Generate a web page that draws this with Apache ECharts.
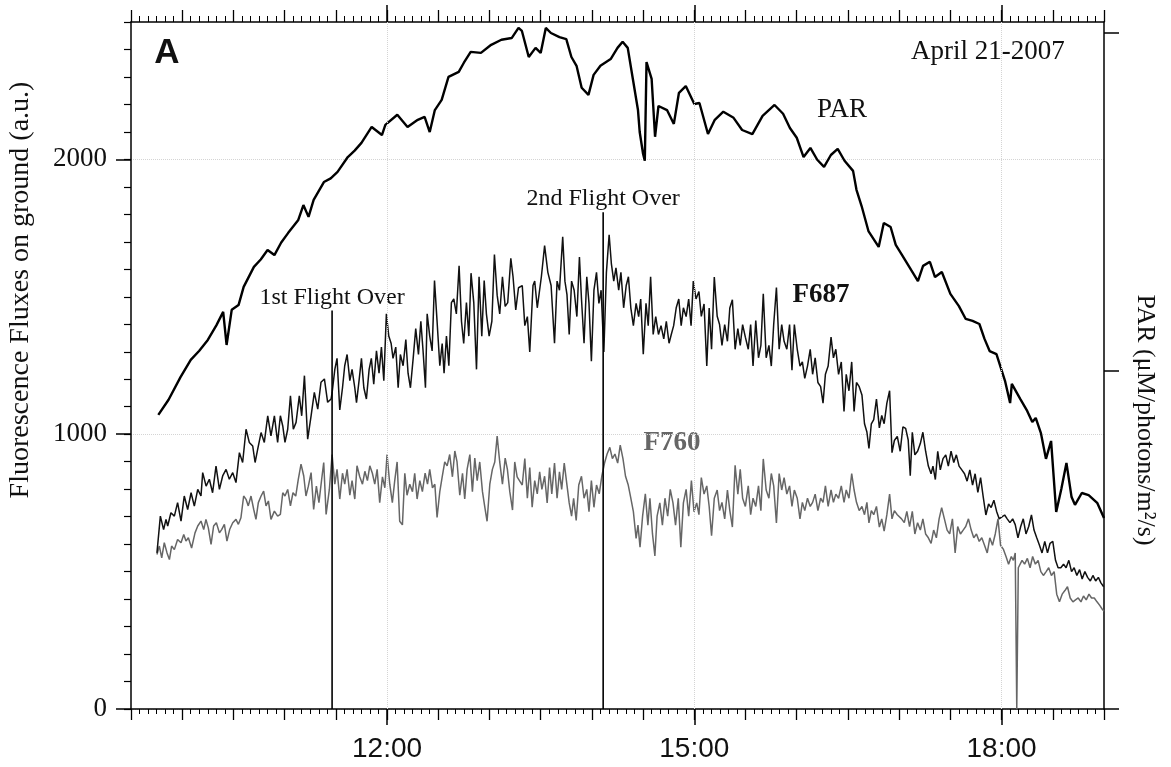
<!DOCTYPE html>
<html>
<head>
<meta charset="utf-8">
<script src="https://cdn.jsdelivr.net/npm/echarts@6/dist/echarts.min.js"></script>
<style>html,body{margin:0;padding:0;background:#fff}#c{width:1171px;height:767px}</style>
</head>
<body>
<div id="c"></div>
<script>
// ---------- DATA (time in minutes since midnight, values in axis units) ----------
const xTickValues = [12, 15, 18];
const xTickLabels = ['12:00', '15:00', '18:00'];
const yTickValues = [0, 1000, 2000];
const yTickLabels = ['0', '1000', '2000'];
const parTickValues = [0, 1000, 2000];

const flightTimes = [687.8, 846.6];
const flightTops = [1450, 1808];
const flightNames = ['1st Flight Over', '2nd Flight Over'];

// PAR (right axis)
const par = [[586,870],[592,915],[599,982],[605,1033],[610,1060],[615,1092],[620,1135],[624,1175],[626,1077],[629,1181],[633,1195],[636,1249],[642,1308],[646,1330],[650,1358],[654,1343],[658,1380],[662,1408],[668,1447],[671,1491],[674,1456],[677,1506],[683,1559],[687,1570],[691,1589],[697,1633],[701,1652],[705,1675],[711,1722],[717,1698],[719,1728],[726,1758],[732,1722],[738,1743],[742,1752],[745,1707],[748,1772],[752,1802],[756,1870],[762,1885],[765,1912],[769,1944],[775,1941],[781,1965],[787,1980],[793,1985],[797,2015],[799,2006],[803,1929],[807,1956],[810,1941],[813,2015],[816,2000],[821,1988],[825,1982],[828,1929],[831,1903],[834,1838],[838,1817],[841,1876],[845,1903],[851,1923],[855,1956],[858,1974],[861,1956],[864,1864],[867,1772],[868,1707],[870,1642],[871,1622],[872,1914],[875,1864],[877,1693],[879,1784],[884,1772],[888,1731],[891,1823],[895,1843],[900,1790],[903,1793],[908,1701],[912,1743],[917,1767],[923,1749],[928,1713],[934,1701],[940,1755],[947,1787],[952,1761],[956,1719],[960,1690],[964,1633],[968,1660],[972,1625],[976,1604],[980,1639],[984,1657],[988,1622],[993,1592],[995,1536],[998,1488],[1002,1414],[1008,1367],[1011,1438],[1015,1426],[1018,1373],[1021,1349],[1027,1299],[1031,1266],[1034,1311],[1038,1323],[1041,1278],[1045,1293],[1050,1228],[1055,1192],[1059,1154],[1063,1148],[1067,1139],[1070,1095],[1073,1059],[1077,1050],[1082,971],[1085,905],[1086,962],[1091,917],[1095,882],[1098,849],[1100,861],[1103,817],[1106,740],[1109,793],[1112,583],[1115,651],[1118,728],[1121,627],[1123,604],[1127,639],[1131,633],[1136,610],[1140,565]];

// F687 (left axis)
const f687 = [[585.2,568],[587.2,702],[589.1,653],[590.5,690],[591.5,666],[593.4,714],[595.4,702],[597.3,751],[599.3,684],[601.2,775],[603.2,726],[605.2,787],[607.1,738],[609.1,799],[611,775],[612,860],[614,811],[615.9,836],[617.8,787],[619.8,884],[621.8,799],[623.7,848],[625.7,872],[627.6,836],[629.6,860],[631.5,824],[633.5,933],[635.4,897],[637.4,1018],[639.3,970],[641.3,957],[642.7,897],[644.2,945],[646.2,1006],[648.1,970],[650.1,1067],[652,994],[654,1067],[655.9,970],[657.5,1067],[658.9,1030],[660.2,970],[661.8,1018],[663.4,1140],[665.1,1018],[666.7,1043],[668.6,1140],[670,1067],[671.6,1213],[673.5,982],[675.5,1067],[677.4,1152],[679.4,1091],[681.3,1189],[683.3,1201],[685.2,1116],[687.2,1128],
[687.8,1150],[689.4,1236],[690.7,1276],[692.3,1088],[693.9,1169],[695.2,1249],[696.6,1290],[698.2,1195],[699.5,1236],[701.1,1169],[702.1,1115],[703.6,1195],[705,1276],[706.4,1169],[707.9,1128],[709.5,1236],[710.8,1276],[712.2,1182],[713.8,1303],[715.3,1222],[716.7,1317],[718.1,1195],[719.6,1438],[721,1357],[722.4,1330],[723.5,1276],[725.1,1317],[726.5,1169],[727.8,1290],[729.4,1249],[731,1344],[732.3,1222],[733.7,1169],[735.3,1276],[736.8,1384],[738.4,1290],[739.8,1411],[741.1,1303],[742.5,1169],[743.5,1438],[745,1357],[746.4,1303],[747.8,1559],[749.3,1411],[750.9,1249],[752.3,1330],[753.4,1222],[754.8,1357],[756.2,1249],[757.7,1479],[759.1,1492],[760.6,1438],[762.2,1613],[763.6,1411],[764.9,1330],[766.5,1479],[767.9,1357],[769.2,1586],[770.8,1479],[772.4,1236],[773.9,1573],[775.5,1357],[776.9,1559],[778.2,1438],[779.8,1357],[781.4,1411],[782.9,1654],[784.5,1506],[786,1438],[787.6,1573],[789.2,1465],[790.7,1479],[792.5,1640],[793.8,1573],[795.4,1452],[797,1533],
[799.2,1541],[800.7,1395],[802.2,1428],[803.6,1299],[805.5,1541],[806.5,1557],[808,1460],[810.4,1573],[812.3,1686],[814.2,1589],[816.1,1541],[818.1,1331],[819.6,1557],[821,1524],[822.9,1718],[824.2,1557],[825.4,1508],[826.7,1363],[828.1,1557],[829.6,1524],[831.2,1428],[832.7,1645],[833.9,1492],[835.4,1331],[837,1573],[838.3,1476],[839.7,1266],[841.2,1524],[842.7,1589],[844.1,1476],[845.4,1524],[847,1299],[848.5,1589],[850.1,1726],[851.4,1621],[852.8,1557],[854.1,1605],[855.7,1524],[857,1589],[858.6,1460],[860.1,1541],[861.4,1573],[862.8,1460],[864.3,1395],[865.9,1476],[867.4,1428],[868.6,1492],[870.1,1291],[871.7,1476],[873,1395],[874.4,1573],[875.9,1363],[877.4,1428],[879,1363],[880.5,1395],[882.1,1347],[883.6,1411],[885.2,1331],[886.5,1363],[887.9,1395],[889.4,1460],[890.9,1492],[892.3,1395],[893.6,1460],[895.2,1428],[896.7,1492],[898.1,1395],[899.4,1557],[901,1492],
[902.7,1519],[904.1,1429],[905.7,1474],[907.3,1248],[908.7,1459],[910.1,1309],[911.7,1572],[913.4,1429],[914.8,1399],[916.2,1323],[917.8,1399],[919.4,1338],[920.8,1459],[922.3,1489],[923.9,1309],[925.5,1384],[926.9,1323],[928.3,1399],[929.9,1353],[931.6,1309],[933,1399],[934.4,1248],[936,1414],[937.6,1278],[939,1323],[940.4,1511],[942.1,1278],[943.7,1323],[945.1,1248],[946.5,1399],[948.1,1534],[949.7,1309],[951.2,1399],[952.6,1338],[954.2,1309],[955.8,1399],[957.2,1233],[958.6,1399],[960.3,1309],[961.9,1248],[963.3,1263],[964.7,1203],[966.3,1248],[967.9,1309],[969.3,1218],[970.8,1278],[972.4,1188],[974,1173],[975.4,1113],[976.8,1218],[978.4,1248],[980.1,1353],[981.5,1278],[982.9,1309],[984.5,1218],[986.1,1263],[987.7,1083],[989,1218],[990.6,1158],[992.2,1263],[993.6,1083],[995,1188],[996.6,1173],[998.2,1143],[999.7,1038],[1001.1,1008],[1002.3,948],[1003.7,1038],[1005.1,1053],[1006.7,1128],[1008.4,1023],[1009.8,1068],[1011.2,1038],[1012.8,1113],[1014.4,1158],[1015.8,933],[1017.2,977],[1018.9,992],
[1020.6,938],[1022.2,1027],[1023.8,1021],[1025.3,979],[1026.5,849],[1027.7,1007],[1029.2,925],[1030.8,938],[1032.4,966],[1033.9,1007],[1035.5,938],[1037.1,884],[1038.7,856],[1039.8,884],[1041.2,835],[1042.6,938],[1044.1,870],[1045.7,911],[1047.3,925],[1048.8,884],[1050.4,938],[1052,897],[1053.5,925],[1055.1,884],[1056.7,870],[1058.3,856],[1059.8,829],[1061.4,870],[1063,815],[1064.5,856],[1066.1,788],[1067.7,842],[1069.2,774],[1070.8,706],[1072.4,746],[1073.9,733],[1075.5,760],[1077.1,719],[1078.6,692],[1080.2,699],[1081.8,706],[1083.3,692],[1084.9,678],[1086.5,692],[1088,671],[1089.6,623],[1091.2,664],[1092.7,692],[1094.3,637],[1095.9,664],[1097.5,706],[1099,651],[1100.6,623],[1102.2,596],[1103.7,568],[1105.3,610],[1106.9,568],[1108.4,603],[1110,610],[1111.6,541],[1113.1,514],[1114.7,514],[1116.3,527],[1117.8,514],[1119.4,541],[1121,500],[1122.5,514],[1124.1,486],[1125.7,507],[1127.2,473],[1128.8,500],[1130.4,479],[1132,466],[1133.5,486],[1135.1,466],[1136.7,479],[1138.2,459],[1139.8,445]];

// F760 (left axis)
const f760 = [[585.2,562],[586.6,593],[588,550],[589.5,605],[591.1,568],[592.5,544],[593.8,593],[595.4,580],[597.3,617],[599.3,605],[600.9,635],[602.2,611],[603.6,623],[605.5,586],[607.5,641],[609.1,666],[611,684],[612.6,653],[613.9,690],[615.3,659],[616.9,599],[618.4,666],[620,678],[621.8,641],[623.1,653],[624.7,672],[626.2,611],[627.8,653],[629.6,678],[631.5,690],[632.9,672],[634.4,696],[636,775],[637.4,763],[638.7,739],[640.3,775],[641.9,726],[643.2,690],[644.6,751],[646.2,775],[647.7,793],[649.1,739],[650.5,757],[652,690],[654,720],[655.9,702],[657.5,708],[658.9,787],[660.2,775],[661.8,799],[663.4,739],[664.9,787],[666.5,775],[668,836],[669.6,891],[671.2,848],[672.5,775],[673.9,811],[675.5,860],[677,726],[678.6,811],[680.1,751],[681.7,836],[682.9,897],[684.3,708],[686.2,799],
[687.8,926],[689.4,818],[690.7,872],[692.3,764],[693.9,858],[695.2,818],[696.6,872],[698.2,778],[699.5,831],[701.1,764],[702.4,885],[704,845],[705.6,818],[707,865],[708.5,831],[709.9,885],[711.4,858],[712.8,818],[714.2,872],[715.7,751],[717.3,845],[718.7,805],[720,926],[721.6,818],[723.1,751],[724.5,831],[725.9,899],[727.4,683],[729,670],[730.4,858],[731.7,778],[733.3,818],[734.9,791],[736.2,858],[737.6,764],[739.2,831],[740.7,791],[742.3,858],[743.7,818],[745,872],[746.6,805],[748,818],[749.3,697],[750.9,791],[752.3,845],[753.8,899],[755.2,885],[756.7,926],[758.3,845],[759.7,939],[761,899],[762.6,778],[764.2,858],[765.5,764],[766.9,872],[768.5,926],[770,791],[771.4,913],[772.8,831],[774.3,899],[775.9,791],[777.2,737],[778.6,683],[780.2,818],[781.7,872],[783.1,899],[784.5,993],[786,899],[787.6,818],[789.2,913],[790.5,872],[791.9,791],[793.5,724],[794.8,899],[796.2,845],
[799.2,815],[800.7,911],[802.2,767],[803.6,879],[805,734],[806.5,831],[808,783],[809.4,863],[810.7,799],[812.3,847],[813.8,750],[815.2,879],[816.5,783],[818.1,895],[819.6,767],[821,863],[822.3,799],[823.8,895],[825.4,815],[826.7,750],[828.1,702],[829.3,767],[830.8,686],[832.3,815],[833.9,847],[835.4,767],[837,799],[838.3,718],[839.7,831],[841.2,734],[842.7,815],[844.3,783],[845.8,847],[847.4,895],[848.9,928],[850.5,952],[852,911],[853.5,928],[855.1,895],[856.6,960],[858.2,911],[859.7,847],[861.3,815],[862.8,767],[864.3,718],[865.9,621],[867,669],[868.2,589],[869.7,702],[871.3,783],[872.8,669],[874,767],[875.5,637],[876.9,557],[878.2,702],[879.8,750],[881.3,669],[882.8,767],[884.4,702],[885.9,799],[887.5,750],[889,669],[890.6,767],[892.1,589],[893.6,750],[895.2,799],[896.7,702],[898.3,831],[899.8,718],[901.4,750],
[902.7,707],[904.1,842],[905.7,782],[907.3,812],[908.7,737],[910.1,631],[911.7,767],[913.4,797],[914.8,722],[916.2,752],[917.8,692],[919.4,797],[920.8,722],[922.3,662],[923.9,887],[925.5,782],[926.9,872],[928.3,767],[929.9,737],[931.6,812],[933,707],[934.4,767],[936,737],[937.6,812],[939,722],[940.4,910],[942.1,797],[943.7,767],[945.1,857],[946.5,812],[948.1,677],[949.7,857],[951.2,797],[952.6,842],[954.2,782],[955.8,812],[957.2,737],[958.6,797],[960.3,767],[961.9,692],[963.3,752],[964.7,722],[966.3,767],[967.9,737],[969.3,752],[970.8,782],[972.4,722],[974,767],[975.4,752],[976.8,812],[978.4,737],[980.1,797],[981.5,752],[982.9,782],[984.5,767],[986.1,812],[987.7,752],[989,797],[990.6,767],[992.2,857],[993.6,797],[995,752],[996.6,722],[998.2,737],[999.7,707],[1001.1,752],[1002.3,677],[1003.7,722],[1005.1,707],[1006.7,737],[1008.4,662],[1009.8,692],[1011.2,647],[1012.8,707],[1014.4,782],[1015.8,692],[1017.2,722],[1018.9,707],
[1021.4,692],[1023,678],[1024.5,719],[1026.1,664],[1027.7,719],[1029.2,637],[1030.8,678],[1032.4,651],[1033.9,692],[1035.5,637],[1037.1,623],[1038.7,603],[1040.2,651],[1041.8,623],[1043.4,692],[1044.9,733],[1046.5,692],[1048.1,651],[1049.6,637],[1051.2,692],[1052.8,568],[1054.3,664],[1055.9,637],[1057.5,651],[1059,664],[1060.6,692],[1062.2,651],[1063.7,623],[1065.3,637],[1066.9,610],[1068.4,623],[1070,596],[1071.6,568],[1073.1,623],[1074.7,596],[1076.3,637],[1077.9,692],[1079.4,596],[1081,582],[1082.6,555],[1084.1,527],[1085.7,555],[1086.9,541],[1088,568],[1088.9,0],[1089.8,514],[1092,541],[1093.5,527],[1095.1,548],[1096.7,514],[1098.2,555],[1099.8,527],[1101.4,541],[1103,500],[1104.5,486],[1106.1,500],[1107.6,514],[1109.2,486],[1110.8,500],[1112.3,418],[1113.9,390],[1115.5,418],[1117.1,431],[1118.6,445],[1120.2,404],[1121.8,390],[1123.3,397],[1124.9,404],[1126.5,390],[1128,411],[1129.6,397],[1131.2,418],[1132.7,404],[1134.3,404],[1135.9,390],[1137.5,377],[1139,363],[1140,356]];

// ---------- CHART ----------
const SERIF = "'Liberation Serif','Times New Roman',serif";
const NARROW = "'Liberation Sans Narrow','Arial Narrow','Liberation Sans',sans-serif";
const toHours = arr => arr.map(([m, v]) => [m / 60, v]);
const X_MIN = 9.5, X_MAX = 19, PAR_MAX = 2032.5;

const chart = echarts.init(document.getElementById('c'), null, {renderer: 'canvas'});

const xBase = {type: 'value', min: X_MIN, max: X_MAX, splitLine: {show: false}};
const flightSeries = flightTimes.map((t, i) => ({
  type: 'line', xAxisIndex: 0, yAxisIndex: 0, z: 4,
  showSymbol: true, symbol: 'circle', symbolSize: 0,
  lineStyle: {color: '#000', width: 1.6},
  itemStyle: {color: '#000'},
  data: [
    [t / 60, 0],
    {value: [t / 60, flightTops[i]],
     label: {show: true, position: 'top', distance: 1, formatter: flightNames[i],
             fontFamily: SERIF, fontSize: 24, color: '#111'}}
  ],
  silent: true, animation: false
}));

const option = {
  animation: false,
  backgroundColor: '#fff',
  grid: {left: 131, right: 67, top: 22, bottom: 58, containLabel: false},
  xAxis: [
    Object.assign({}, xBase, {position: 'bottom', interval: 0.5,
      axisLine: {show: true, onZero: false, lineStyle: {color: '#000', width: 1.5}},
      axisTick: {show: true, inside: false, length: 11, lineStyle: {color: '#000', width: 1.3}},
      minorTick: {show: true, splitNumber: 6, length: 5, lineStyle: {color: '#000', width: 1}},
      axisLabel: {show: false}}),
    Object.assign({}, xBase, {position: 'bottom', interval: 0.5,
      axisLine: {show: false, onZero: false},
      axisTick: {show: true, customValues: xTickValues, length: 16, lineStyle: {color: '#000', width: 1.5}},
      axisLabel: {show: true, customValues: xTickValues, margin: 26,
        formatter: v => { const k = xTickValues.indexOf(v); return k >= 0 ? xTickLabels[k] : ''; },
        fontFamily: NARROW, fontSize: 28, color: '#111'}}),
    Object.assign({}, xBase, {position: 'top', interval: 0.5,
      axisLine: {show: true, onZero: false, lineStyle: {color: '#000', width: 1.5}},
      axisTick: {show: true, inside: false, length: 12, lineStyle: {color: '#000', width: 1.3}},
      minorTick: {show: true, splitNumber: 6, length: 6, lineStyle: {color: '#000', width: 1}},
      axisLabel: {show: false}}),
    Object.assign({}, xBase, {position: 'top', interval: 0.5,
      axisLine: {show: false, onZero: false},
      axisTick: {show: true, customValues: xTickValues, length: 17, lineStyle: {color: '#000', width: 1.5}},
      axisLabel: {show: false}})
  ],
  yAxis: [
    {type: 'value', min: 0, max: 2500, interval: 100, position: 'left',
      axisLine: {show: true, onZero: false, lineStyle: {color: '#000', width: 1.5}},
      axisTick: {show: true, length: 7, lineStyle: {color: '#000', width: 1.2}},
      axisLabel: {show: false}, splitLine: {show: false}},
    {type: 'value', min: 0, max: 2500, interval: 1000, position: 'left',
      axisLine: {show: false, onZero: false},
      axisTick: {show: true, customValues: yTickValues, length: 15, lineStyle: {color: '#000', width: 1.5}},
      axisLabel: {show: true, customValues: yTickValues, margin: 24,
        formatter: v => { const k = yTickValues.indexOf(v); return k >= 0 ? yTickLabels[k] : ''; },
        fontFamily: SERIF, fontSize: 27, color: '#111'},
      splitLine: {show: true, lineStyle: {color: '#d4d4d4', type: 'dotted', width: 1}}},
    {type: 'value', min: 0, max: PAR_MAX, interval: 1000, position: 'right',
      axisLine: {show: true, onZero: false, lineStyle: {color: '#000', width: 1.5}},
      axisTick: {show: true, customValues: parTickValues, length: 15, lineStyle: {color: '#000', width: 1.5}},
      axisLabel: {show: false}, splitLine: {show: false}}
  ],
  series: [
    {name: 'F760', type: 'line', xAxisIndex: 0, yAxisIndex: 0, data: toHours(f760),
      showSymbol: false, lineStyle: {color: '#666', width: 1.5}, itemStyle: {color: '#666'}, z: 2,
      markLine: {silent: true, symbol: ['none', 'none'], label: {show: false}, animation: false,
        lineStyle: {color: '#d4d4d4', type: 'dotted', width: 1},
        data: xTickValues.map(v => ({xAxis: v}))}},
    {name: 'F687', type: 'line', xAxisIndex: 0, yAxisIndex: 0, data: toHours(f687),
      showSymbol: false, lineStyle: {color: '#111', width: 1.5}, itemStyle: {color: '#111'}, z: 3},
    {name: 'PAR', type: 'line', xAxisIndex: 0, yAxisIndex: 2, data: toHours(par),
      showSymbol: false, lineStyle: {color: '#000', width: 2.4}, itemStyle: {color: '#000'}, z: 3}
  ].concat(flightSeries),
  graphic: [
    {type: 'text', x: 167, y: 53, style: {text: 'A', font: 'bold 35px "Liberation Sans", Arial, sans-serif', fill: '#111', align: 'center', verticalAlign: 'middle', textAlign: 'center', textVerticalAlign: 'middle'}},
    {type: 'text', x: 911, y: 52, style: {text: 'April 21-2007', font: '27px ' + SERIF, fill: '#111', align: 'left', verticalAlign: 'middle', textAlign: 'left', textVerticalAlign: 'middle'}},
    {type: 'text', x: 842, y: 110, style: {text: 'PAR', font: '27px ' + SERIF, fill: '#111', align: 'center', verticalAlign: 'middle', textAlign: 'center', textVerticalAlign: 'middle'}},
    {type: 'text', x: 821, y: 295, style: {text: 'F687', font: 'bold 27px ' + SERIF, fill: '#111', align: 'center', verticalAlign: 'middle', textAlign: 'center', textVerticalAlign: 'middle'}},
    {type: 'text', x: 672, y: 443, style: {text: 'F760', font: 'bold 27px ' + SERIF, fill: '#666', align: 'center', verticalAlign: 'middle', textAlign: 'center', textVerticalAlign: 'middle'}},
    {type: 'text', x: 21, y: 290, rotation: Math.PI / 2, style: {text: 'Fluorescence Fluxes on ground (a.u.)', font: '28px ' + SERIF, fill: '#111', align: 'center', verticalAlign: 'middle', textAlign: 'center', textVerticalAlign: 'middle'}},
    {type: 'text', x: 1145, y: 420, rotation: -Math.PI / 2, style: {text: 'PAR (\u03bcM/photons/m\u00b2/s)', font: '26px ' + SERIF, fill: '#111', align: 'center', verticalAlign: 'middle', textAlign: 'center', textVerticalAlign: 'middle'}}
  ]
};
chart.setOption(option);
</script>
</body>
</html>
